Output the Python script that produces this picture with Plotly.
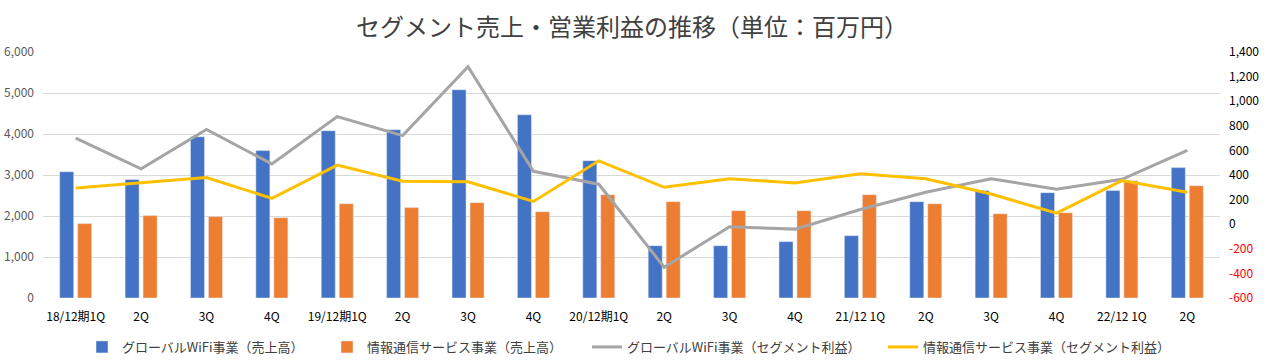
import plotly.graph_objects as go

categories = ["18/12期1Q", "2Q", "3Q", "4Q", "19/12期1Q", "2Q", "3Q", "4Q", "20/12期1Q",
              "2Q", "3Q", "4Q", "21/12 1Q", "2Q", "3Q", "4Q", "22/12 1Q", "2Q"]
wifi_sales = [3080, 2890, 3935, 3595, 4080, 4105, 5080, 4470, 3350,
              1275, 1275, 1375, 1520, 2350, 2620, 2570, 2620, 3180]
info_sales = [1815, 2010, 1985, 1960, 2300, 2205, 2325, 2105, 2520,
              2350, 2130, 2130, 2520, 2300, 2055, 2080, 2860, 2740]
wifi_profit = [700, 450, 770, 490, 875, 720, 1280, 430, 325,
               -350, -20, -40, 120, 260, 370, 285, 365, 600]
info_profit = [295, 335, 380, 210, 480, 350, 345, 185, 515,
               300, 370, 335, 410, 370, 245, 90, 355, 260]

left_ticks = [0, 1000, 2000, 3000, 4000, 5000, 6000]
right_ticks = [-600, -400, -200, 0, 200, 400, 600, 800, 1000, 1200, 1400]

names = ["グローバルWiFi事業（売上高）", "情報通信サービス事業（売上高）",
         "グローバルWiFi事業（セグメント利益）", "情報通信サービス事業（セグメント利益）"]
colors = ["#4472C4", "#ED7D31", "#A5A5A5", "#FFC000"]

FONT = "Noto Sans CJK JP, Noto Sans, sans-serif"
W, H = 1264, 361
x = list(range(len(categories)))

fig = go.Figure()
fig.add_trace(go.Bar(x=x, y=wifi_sales, name=names[0], marker_color=colors[0], yaxis="y",
                     legend="legend"))
fig.add_trace(go.Bar(x=x, y=info_sales, name=names[1], marker_color=colors[1], yaxis="y",
                     legend="legend2"))
fig.add_trace(go.Scatter(x=x, y=wifi_profit, name=names[2], mode="lines",
                         line=dict(color=colors[2], width=3), yaxis="y2", legend="legend3"))
fig.add_trace(go.Scatter(x=x, y=info_profit, name=names[3], mode="lines",
                         line=dict(color=colors[3], width=3), yaxis="y2", legend="legend4"))

right_text = [(f"<span style='color:#FF0000'>{v:,}</span>" if v < 0 else f"{v:,}") for v in right_ticks]

# legend text start positions (px) in the reference
legend_text_x = [122, 367, 627, 923]
legends = {}
for i, tx in enumerate(legend_text_x):
    key = "legend" if i == 0 else f"legend{i + 1}"
    legends[key] = dict(orientation="h", xref="container", yref="container",
                        x=(tx - 40) / W, xanchor="left", y=1 - 347 / H, yanchor="middle",
                        font=dict(size=13, color="#404040"), itemwidth=30,
                        bgcolor="rgba(0,0,0,0)")

fig.update_layout(
    width=W, height=H,
    margin=dict(l=43, r=44, t=52, b=63, autoexpand=False),
    paper_bgcolor="white", plot_bgcolor="white",
    font=dict(family=FONT, size=12, color="#000000"),
    title=dict(text="セグメント売上・営業利益の推移（単位：百万円）",
               font=dict(family=FONT, size=24, color="#404040"),
               x=0.5, xanchor="center", y=1 - 28 / H, yanchor="middle", yref="container"),
    barmode="group", bargap=0.45, bargroupgap=0.22,
    showlegend=True,
    xaxis=dict(tickmode="array", tickvals=x, ticktext=categories, range=[-0.5, len(categories) - 0.5],
               showgrid=False, zeroline=False, showline=False, ticks="", tickangle=0,
               tickfont=dict(size=12, color="#000000"), ticklabelstandoff=10),
    yaxis=dict(range=[0, 6000], tickvals=left_ticks, tickformat=",", showgrid=True,
               gridcolor="#D9D9D9", gridwidth=1, zeroline=False, showline=False, ticks="",
               tickfont=dict(size=12, color="#595959"), ticklabelstandoff=8),
    yaxis2=dict(range=[-600, 1400], overlaying="y", side="right", tickmode="array",
                tickvals=right_ticks, ticktext=right_text, showgrid=False, zeroline=False,
                showline=False, ticks="", tickfont=dict(size=12, color="#000000"),
                ticklabelstandoff=8),
    **legends,
)

fig.write_html("out.html", config={"displayModeBar": False},
               post_script="document.body.style.margin='0';")
